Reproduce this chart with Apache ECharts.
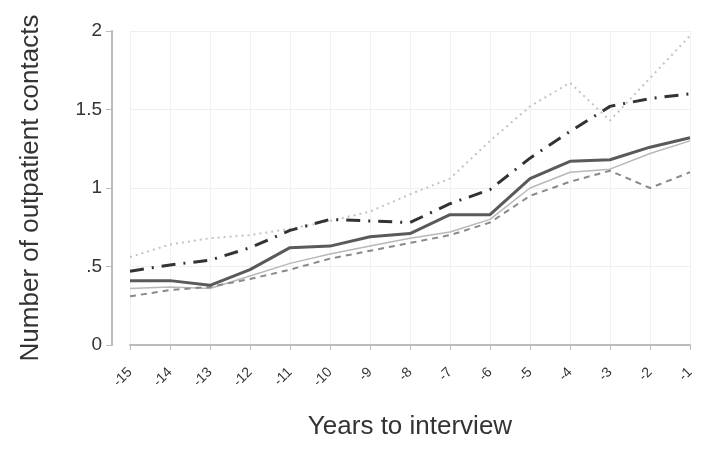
<!DOCTYPE html>
<html>
<head>
<meta charset="utf-8">
<script src="https://cdn.jsdelivr.net/npm/echarts@6/dist/echarts.min.js"></script>
<style>
  html, body { margin: 0; padding: 0; background: #fff; }
  #chart { width: 710px; height: 451px; }
</style>
</head>
<body>
<div id="chart"></div>
<script>
  // 横轴：距访谈年数
  var years = ['-15', '-14', '-13', '-12', '-11', '-10', '-9', '-8', '-7', '-6', '-5', '-4', '-3', '-2', '-1'];
  var yTicks = [0, 0.5, 1, 1.5, 2];

  // 各条线的数值
  var solidLine = [0.41, 0.41, 0.38, 0.48, 0.62, 0.63, 0.69, 0.71, 0.83, 0.83, 1.06, 1.17, 1.18, 1.26, 1.32];
  var dashDotLine = [0.47, 0.51, 0.54, 0.62, 0.73, 0.80, 0.79, 0.78, 0.90, 0.99, 1.19, 1.36, 1.52, 1.57, 1.60];
  var dottedLine = [0.56, 0.64, 0.68, 0.70, 0.74, 0.79, 0.85, 0.96, 1.06, 1.30, 1.52, 1.67, 1.43, 1.70, 1.97];
  var dashedLine = [0.31, 0.35, 0.37, 0.42, 0.48, 0.55, 0.60, 0.65, 0.70, 0.78, 0.95, 1.04, 1.11, 1.00, 1.10];
  var thinLine = [0.36, 0.37, 0.36, 0.44, 0.52, 0.58, 0.63, 0.68, 0.72, 0.80, 1.00, 1.10, 1.12, 1.22, 1.30];

  var chart = echarts.init(document.getElementById('chart'));

  function makeLine(data, color, width, type) {
    return {
      type: 'line',
      data: data,
      symbol: 'none',
      animation: false,
      lineStyle: { color: color, width: width, type: type }
    };
  }

  var option = {
    backgroundColor: '#ffffff',
    grid: { left: 130, right: 20, top: 31, bottom: 106 },
    xAxis: {
      type: 'category',
      data: years,
      boundaryGap: false,
      offset: 17,
      name: 'Years to interview',
      nameLocation: 'middle',
      nameGap: 52,
      nameTextStyle: { color: '#333', fontSize: 26, fontFamily: 'Liberation Sans' },
      axisLine: { lineStyle: { color: '#bbb', width: 2 } },
      axisTick: { length: 5, lineStyle: { color: '#bbb' } },
      axisLabel: { rotate: 45, color: '#333', fontSize: 14, margin: 8, fontFamily: 'Liberation Sans' },
      splitLine: { show: true, lineStyle: { color: '#f1f1f1', width: 1 } }
    },
    yAxis: {
      type: 'value',
      min: yTicks[0],
      max: yTicks[yTicks.length - 1],
      interval: 0.5,
      offset: 18,
      name: 'Number of outpatient contacts',
      nameLocation: 'middle',
      nameGap: 68,
      nameTextStyle: { color: '#333', fontSize: 26, fontFamily: 'Liberation Sans' },
      axisLine: { show: true, lineStyle: { color: '#bbb', width: 2 } },
      axisTick: { show: true, length: 6, lineStyle: { color: '#bbb' } },
      axisLabel: {
        color: '#333',
        fontSize: 19,
        margin: 10,
        fontFamily: 'Liberation Sans',
        formatter: function (v) {
          return v === 0 ? '0' : String(v).replace(/^0\./, '.');
        }
      },
      splitLine: { show: true, lineStyle: { color: '#eeeeee', width: 1 } }
    },
    series: [
      makeLine(thinLine, '#b8b8b8', 1.5, 'solid'),
      makeLine(dashedLine, '#8a8a8a', 2, [6, 5]),
      makeLine(dottedLine, '#c4c4c4', 2, [2, 4]),
      makeLine(dashDotLine, '#333333', 3, [14, 8, 2, 8]),
      makeLine(solidLine, '#5a5a5a', 3, 'solid')
    ]
  };

  chart.setOption(option);
</script>
</body>
</html>
